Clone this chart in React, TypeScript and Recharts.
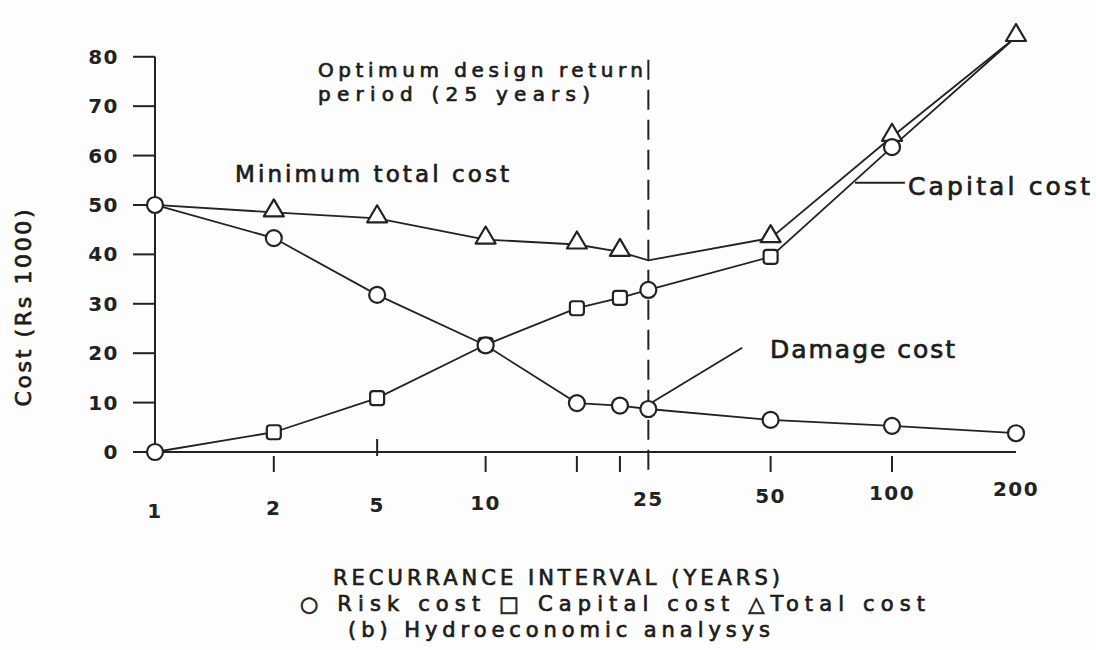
import React from 'react';
import { LineChart, Line, XAxis, YAxis, ReferenceLine } from 'recharts';

// ---- data ----
const recurrenceYears = [1, 2, 5, 10, 15, 20, 25, 50, 100, 200];
// position of each year along the hand-drawn (non-uniform) interval axis, in % of the axis length
const axisPosition = [0, 13.8, 25.8, 38.4, 49.0, 54.0, 57.3, 71.5, 85.6, 100];
const labelledYears = [1, 2, 5, 10, 25, 50, 100, 200];
const riskCost = [50, 43.3, 31.8, 21.6, 9.9, 9.4, 8.7, 6.5, 5.3, 3.8];
const capitalCost = [0, 4.0, 10.9, 21.7, 29.1, 31.2, 32.8, 39.5, 61.7, 84];
const totalCost = [50, 48.5, 47.3, 43.0, 42.0, 40.5, 38.8, 43.3, 63.8, 84];
const costTicks = [0, 10, 20, 30, 40, 50, 60, 70, 80];
const optimumYear = 25;

const data = recurrenceYears.map((year, i) => ({
  year,
  pos: axisPosition[i],
  risk: riskCost[i],
  capital: capitalCost[i],
  total: totalCost[i],
}));

const posOf = (year: number) => axisPosition[recurrenceYears.indexOf(year)];

const INK = '#222';
const FONT = "'DejaVu Sans', 'Liberation Sans', sans-serif";

const nearestIndex = (v: number) => {
  let best = 0;
  axisPosition.forEach((p, i) => {
    if (Math.abs(p - v) < Math.abs(axisPosition[best] - v)) best = i;
  });
  return best;
};

const XTick = (props: any) => {
  const { x, y, payload } = props;
  const idx = nearestIndex(Number(payload.value));
  const year = recurrenceYears[idx];
  const skew = (x - 155) * 0.025;
  let tick: React.ReactNode = null;
  if (year === 5) {
    tick = <line x1={x} x2={x} y1={y - 13} y2={y + 4} stroke={INK} strokeWidth={2} />;
  } else if (year !== 1 && year !== optimumYear && year !== 200) {
    tick = <line x1={x} x2={x} y1={y + 4} y2={y + 20} stroke={INK} strokeWidth={2} />;
  }
  return (
    <g>
      {tick}
      {labelledYears.includes(year) && (
        <text
          x={x}
          y={y + 66 - skew}
          textAnchor="middle"
          fontFamily={FONT}
          fontSize={20}
          fontWeight="bold"
          letterSpacing={1.5}
          fill={INK}
        >
          {year}
        </text>
      )}
    </g>
  );
};

const Circle = ({ cx, cy }: any) => (
  <circle cx={cx} cy={cy} r={8} fill="#fff" stroke={INK} strokeWidth={2.2} />
);
const Square = ({ cx, cy }: any) => (
  <rect x={cx - 7} y={cy - 7} width={14} height={14} rx={3} fill="#fff" stroke={INK} strokeWidth={2.2} />
);
const Triangle = ({ cx, cy }: any) => (
  <polygon
    points={`${cx},${cy - 13} ${cx - 10},${cy + 4} ${cx + 10},${cy + 4}`}
    fill="#fff"
    stroke={INK}
    strokeWidth={2.2}
    strokeLinejoin="round"
  />
);

const riskDot = (p: any) => <Circle key={`r${p.index}`} {...p} />;
const capitalDot = (p: any) => {
  const year = recurrenceYears[p.index];
  if (year === 200) return <g key={`c${p.index}`} />;
  if (year === 1 || year === optimumYear || year === 100) return <Circle key={`c${p.index}`} {...p} />;
  return <Square key={`c${p.index}`} {...p} />;
};
const totalDot = (p: any) => {
  const year = recurrenceYears[p.index];
  if (year === 1 || year === optimumYear) return <g key={`t${p.index}`} />;
  return <Triangle key={`t${p.index}`} {...p} />;
};

const textStyle = {
  fontFamily: FONT,
  fill: '#1c1c1c',
  stroke: '#1c1c1c',
  strokeWidth: 0.7,
} as const;

export default function App() {
  return (
    <div style={{ position: 'absolute', left: 0, top: 0, width: 1096, height: 650, background: '#fdfdfd' }}>
      <LineChart
        width={1096}
        height={650}
        data={data}
        margin={{ top: 37, right: 80, bottom: 168, left: 95 }}
      >
        <XAxis
          type="number"
          dataKey="pos"
          domain={[0, 100]}
          ticks={axisPosition}
          height={30}
          tickSize={0}
          tickMargin={0}
          tickLine={false}
          axisLine={{ stroke: INK, strokeWidth: 2 }}
          tick={<XTick />}
          interval={0}
        />
        <YAxis
          type="number"
          domain={[0, 84]}
          ticks={costTicks}
          width={60}
          tickSize={22}
          tickMargin={14}
          axisLine={false}
          tickLine={{ stroke: INK, strokeWidth: 2 }}
          tick={{ fontFamily: FONT, fontSize: 20, fontWeight: 'bold', fill: INK, letterSpacing: 1.5 }}
        />
        <ReferenceLine
          segment={[{ x: 0, y: 0 }, { x: 0, y: 80 }]}
          stroke={INK}
          strokeWidth={2}
          ifOverflow="visible"
        />
        <ReferenceLine
          segment={[{ x: posOf(optimumYear), y: -3.6 }, { x: posOf(optimumYear), y: 81.4 }]}
          stroke={INK}
          strokeWidth={2}
          strokeDasharray="20 10"
          ifOverflow="visible"
        />
        <ReferenceLine
          segment={[{ x: 81.3, y: 54.5 }, { x: 87.1, y: 54.5 }]}
          stroke={INK}
          strokeWidth={1.8}
          ifOverflow="visible"
        />
        <ReferenceLine
          segment={[{ x: 57.8, y: 10.1 }, { x: 68.2, y: 21.1 }]}
          stroke={INK}
          strokeWidth={1.8}
          ifOverflow="visible"
        />
        <Line
          type="linear"
          dataKey="total"
          stroke={INK}
          strokeWidth={1.8}
          dot={totalDot}
          activeDot={false}
          isAnimationActive={false}
        />
        <Line
          type="linear"
          dataKey="capital"
          stroke={INK}
          strokeWidth={1.8}
          dot={capitalDot}
          activeDot={false}
          isAnimationActive={false}
        />
        <Line
          type="linear"
          dataKey="risk"
          stroke={INK}
          strokeWidth={1.8}
          dot={riskDot}
          activeDot={false}
          isAnimationActive={false}
        />
        <g>
          <text {...textStyle} x={23} y={308} fontSize={22} textAnchor="middle" dominantBaseline="central" transform="rotate(-90 23 308)" textLength={197} lengthAdjust="spacing">
            Cost (Rs 1000)
          </text>
          <text {...textStyle} x={318} y={77} fontSize={20} textLength={325} lengthAdjust="spacing">
            Optimum design return
          </text>
          <text {...textStyle} x={318} y={101} fontSize={20} textLength={272} lengthAdjust="spacing">
            period (25 years)
          </text>
          <text {...textStyle} x={235} y={182} fontSize={23} textLength={274} lengthAdjust="spacing">
            Minimum total cost
          </text>
          <text {...textStyle} x={908} y={195} fontSize={25} textLength={182} lengthAdjust="spacing">
            Capital cost
          </text>
          <text {...textStyle} x={770} y={358} fontSize={25} textLength={185} lengthAdjust="spacing">
            Damage cost
          </text>
          <text {...textStyle} x={333} y={585} fontSize={21} textLength={447} lengthAdjust="spacing">
            RECURRANCE INTERVAL (YEARS)
          </text>
          <text {...textStyle} x={300} y={611} fontSize={21} textLength={625} lengthAdjust="spacing">
            ○ Risk cost □ Capital cost △Total cost
          </text>
          <text {...textStyle} x={348} y={637} fontSize={21} textLength={422} lengthAdjust="spacing">
            (b) Hydroeconomic analysys
          </text>
        </g>
      </LineChart>
    </div>
  );
}
